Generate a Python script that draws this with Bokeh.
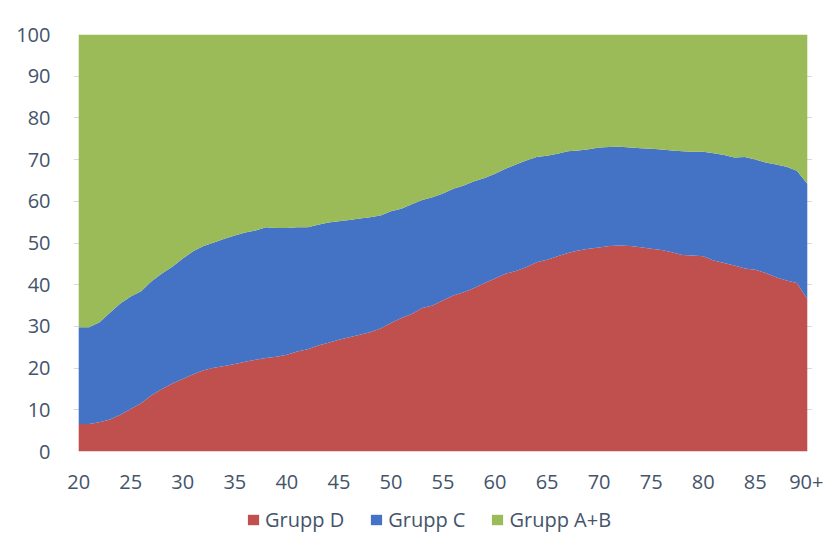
from bokeh.plotting import figure
from bokeh.layouts import column
from bokeh.models import ColumnDataSource, FixedTicker, Legend, Range1d
from bokeh.embed import file_html
from bokeh.resources import INLINE

ages = list(range(20, 91))
grupp_d = [6.6, 6.6, 7.0, 7.7, 8.8, 10.2, 11.6, 13.5, 15.0, 16.3,
           17.4, 18.5, 19.5, 20.1, 20.5, 21.0, 21.5, 22.0, 22.4, 22.7,
           23.2, 24.0, 24.5, 25.4, 26.1, 26.8, 27.4, 28.0, 28.6, 29.5,
           30.8, 32.0, 33.0, 34.4, 35.0, 36.3, 37.4, 38.2, 39.2, 40.4,
           41.5, 42.6, 43.3, 44.2, 45.4, 46.0, 46.8, 47.6, 48.2, 48.6,
           48.9, 49.3, 49.4, 49.3, 49.0, 48.6, 48.3, 47.8, 47.1, 47.0,
           46.8, 45.8, 45.2, 44.6, 43.9, 43.6, 42.8, 41.8, 41.0, 40.4,
           36.6]
grupp_c = [23.2, 23.2, 24.0, 25.6, 26.7, 27.0, 26.8, 27.3, 27.7, 28.0,
           28.9, 29.5, 29.8, 30.0, 30.5, 30.8, 31.0, 31.0, 31.4, 30.9,
           30.4, 29.8, 29.3, 29.0, 28.8, 28.4, 28.1, 27.9, 27.6, 27.1,
           26.8, 26.2, 26.3, 25.9, 26.0, 25.6, 25.6, 25.6, 25.6, 25.2,
           25.1, 25.2, 25.5, 25.6, 25.2, 24.9, 24.6, 24.4, 24.0, 23.9,
           24.0, 23.7, 23.7, 23.6, 23.7, 24.0, 24.1, 24.4, 24.9, 24.9,
           25.1, 25.7, 25.9, 25.9, 26.7, 26.4, 26.5, 27.0, 27.3, 26.9,
           27.6]
grupp_ab = [70.2, 70.2, 69.0, 66.7, 64.5, 62.8, 61.6, 59.2, 57.3, 55.7,
            53.7, 52.0, 50.7, 49.9, 49.0, 48.2, 47.5, 47.0, 46.2, 46.4,
            46.4, 46.2, 46.2, 45.6, 45.1, 44.8, 44.5, 44.1, 43.8, 43.4,
            42.4, 41.8, 40.7, 39.7, 39.0, 38.1, 37.0, 36.2, 35.2, 34.4,
            33.4, 32.2, 31.2, 30.2, 29.4, 29.1, 28.6, 28.0, 27.8, 27.5,
            27.1, 27.0, 26.9, 27.1, 27.3, 27.4, 27.6, 27.8, 28.0, 28.1,
            28.1, 28.5, 28.9, 29.5, 29.4, 30.0, 30.7, 31.2, 31.7, 32.7,
            35.8]
series_names = ["Grupp D", "Grupp C", "Grupp A+B"]
x_ticks = [20, 25, 30, 35, 40, 45, 50, 55, 60, 65, 70, 75, 80, 85, 90]
x_tick_labels = ["20", "25", "30", "35", "40", "45", "50", "55", "60",
                 "65", "70", "75", "80", "85", "90+"]
y_ticks = [0, 10, 20, 30, 40, 50, 60, 70, 80, 90, 100]

colors = ["#C0504D", "#4472C4", "#9BBB59"]
FONT = "Open Sans"
TXT = "#44546A"

source = ColumnDataSource(dict(age=ages, D=grupp_d, C=grupp_c, AB=grupp_ab))

p = figure(frame_width=739, frame_height=417, output_backend="svg",
           toolbar_location=None,
           x_range=Range1d(19.5, 90.5), y_range=Range1d(0, 100),
           min_border_left=73, min_border_right=11, min_border_top=34,
           min_border_bottom=50)
p.outline_line_color = None

renderers = p.varea_stack(stackers=["D", "C", "AB"], x="age", color=colors,
                          source=source)

p.xgrid.visible = False
p.ygrid.grid_line_color = "#d9d9d9"
p.ygrid.ticker = FixedTicker(ticks=y_ticks)

for ax in (p.xaxis[0], p.yaxis[0]):
    ax.axis_line_color = None
    ax.major_tick_line_color = None
    ax.minor_tick_line_color = None
    ax.major_tick_out = 0
    ax.major_tick_in = 0
    ax.major_label_text_font = FONT
    ax.major_label_text_font_size = "20px"
    ax.major_label_text_color = TXT

p.xaxis[0].ticker = FixedTicker(ticks=x_ticks)
p.xaxis[0].major_label_overrides = {t: l for t, l in zip(x_ticks, x_tick_labels)}
p.xaxis[0].major_label_standoff = 23
p.yaxis[0].ticker = FixedTicker(ticks=y_ticks)
p.yaxis[0].major_label_standoff = 23

# legend strip below the chart (stack drawn out of its visible range,
# only used so the legend swatches get the series colours)
lp = figure(width=823, height=43, output_backend="svg", toolbar_location=None,
            x_axis_type=None, y_axis_type=None,
            x_range=Range1d(19.5, 90.5), y_range=Range1d(200, 201),
            min_border_left=0, min_border_right=0, min_border_top=0,
            min_border_bottom=0)
lp.outline_line_color = None
lp.grid.visible = False
swatches = lp.varea_stack(stackers=["D", "C", "AB"], x="age", color=colors,
                          source=source)

legend = Legend(items=[(n, [r]) for n, r in zip(series_names, swatches)],
                orientation="horizontal", location=(173, 11))
legend.label_text_font = FONT
legend.label_text_font_size = "20px"
legend.label_text_color = TXT
legend.glyph_width = 14
legend.glyph_height = 13
legend.label_standoff = 5
legend.spacing = 25
legend.padding = 0
legend.margin = 0
legend.border_line_color = None
legend.background_fill_alpha = 0
lp.add_layout(legend)

layout = column(p, lp, spacing=0)
open("out.html", "w").write(file_html(layout, INLINE))
